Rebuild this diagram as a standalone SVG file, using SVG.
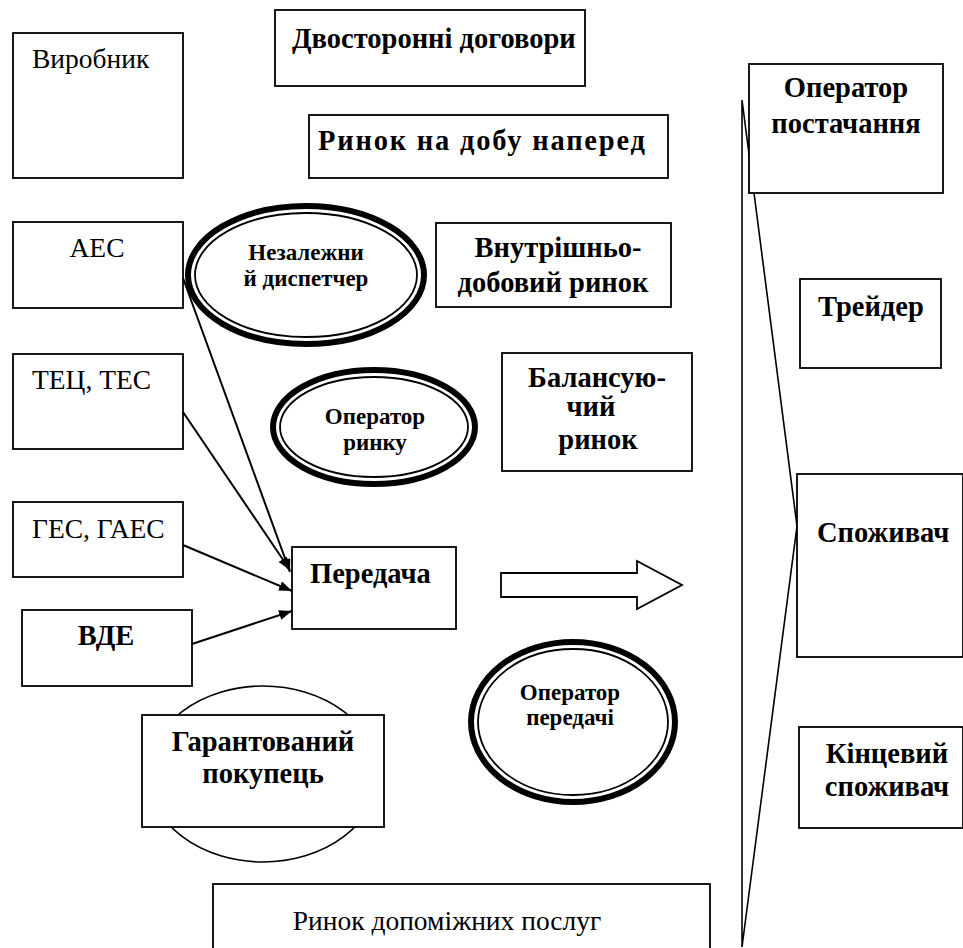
<svg xmlns="http://www.w3.org/2000/svg" width="963" height="948" viewBox="0 0 963 948">
  <style>
    .box { fill: #fff; stroke: #000; stroke-width: 1.8; }
    .thin { fill: none; stroke: #000; stroke-width: 1.6; }
    .ring-outer { fill: #fff; stroke: #000; stroke-width: 6; }
    .ring-inner { fill: none; stroke: #000; stroke-width: 1.8; }
    .edge { fill: none; stroke: #000; stroke-width: 2; marker-end: url(#arrow); }
    .reg { font-family: "Liberation Serif", "Times New Roman", serif; font-size: 27.5px; fill: #000; }
    .bold { font-family: "Liberation Serif", "Times New Roman", serif; font-size: 28.5px; font-weight: bold; fill: #000; }
    .small { font-family: "Liberation Serif", "Times New Roman", serif; font-size: 23px; font-weight: bold; fill: #000; }
    .mid { text-anchor: middle; }
  </style>
  <defs>
    <marker id="arrow" markerUnits="userSpaceOnUse" markerWidth="14" markerHeight="12" refX="13" refY="5" orient="auto">
      <path d="M0,0 L13,5 L0,10 z" fill="#000"/>
    </marker>
  </defs>
  <rect width="963" height="948" fill="#fff"/>

  <!-- supplier bracket behind the right-hand column -->
  <g id="bracket">
    <polygon class="thin" points="742,100 797,526 742,947"/>
  </g>

  <!-- producers -->
  <g id="vyrobnyk">
    <rect class="box" x="13" y="33" width="170" height="145"/>
    <text class="reg" x="32" y="68">Виробник</text>
  </g>
  <g id="aes">
    <rect class="box" x="13" y="222" width="170" height="86"/>
    <text class="reg mid" x="97" y="257">АЕС</text>
  </g>
  <g id="tets">
    <rect class="box" x="13" y="354" width="170" height="95"/>
    <text class="reg" x="32" y="389">ТЕЦ, ТЕС</text>
  </g>
  <g id="ges">
    <rect class="box" x="13" y="502" width="170" height="75"/>
    <text class="reg" x="32" y="538">ГЕС, ГАЕС</text>
  </g>
  <g id="vde">
    <rect class="box" x="22" y="610" width="170" height="76"/>
    <text class="bold mid" x="106" y="645">ВДЕ</text>
  </g>

  <!-- market segments -->
  <g id="bilateral">
    <rect class="box" x="275" y="10" width="310" height="76"/>
    <text class="bold" x="292" y="48">Двосторонні договори</text>
  </g>
  <g id="day-ahead">
    <rect class="box" x="309" y="115" width="359" height="63"/>
    <text class="bold" x="318" y="150" letter-spacing="1.8">Ринок на добу наперед</text>
  </g>
  <g id="intraday">
    <rect class="box" x="436" y="223" width="235" height="84"/>
    <text class="bold mid" x="558" y="257">Внутрішньо-</text>
    <text class="bold mid" x="553" y="292">добовий ринок</text>
  </g>
  <g id="balancing">
    <rect class="box" x="502" y="353" width="190" height="118"/>
    <text class="bold mid" x="597" y="387">Балансую-</text>
    <text class="bold mid" x="591" y="416">чий</text>
    <text class="bold mid" x="598" y="449">ринок</text>
  </g>

  <!-- operators -->
  <g id="dispatcher">
    <ellipse class="ring-outer" cx="306" cy="275" rx="118" ry="69"/>
    <ellipse class="ring-inner" cx="306" cy="275" rx="111" ry="62"/>
    <text class="small mid" x="306" y="260">Незалежни</text>
    <text class="small mid" x="306" y="286">й диспетчер</text>
  </g>
  <g id="market-operator">
    <ellipse class="ring-outer" cx="374" cy="427" rx="101" ry="57"/>
    <ellipse class="ring-inner" cx="374" cy="427" rx="94" ry="50"/>
    <text class="small mid" x="375" y="424">Оператор</text>
    <text class="small mid" x="375" y="450">ринку</text>
  </g>
  <g id="transmission-operator">
    <ellipse class="ring-outer" cx="573" cy="722" rx="102" ry="80"/>
    <ellipse class="ring-inner" cx="573" cy="722" rx="95" ry="73"/>
    <text class="small mid" x="570" y="700">Оператор</text>
    <text class="small mid" x="570" y="725">передачі</text>
  </g>

  <!-- transmission -->
  <g id="peredacha">
    <rect class="box" x="292" y="547" width="164" height="82"/>
    <text class="bold" x="310" y="583">Передача</text>
  </g>
  <g id="flow-arrow">
    <polygon class="box" points="501,573 637,573 637,561 682,585 637,609 637,597 501,597"/>
  </g>

  <!-- guaranteed buyer -->
  <g id="guaranteed-buyer">
    <ellipse class="thin" cx="263" cy="774" rx="115" ry="88" fill="#fff"/>
    <rect class="box" x="142" y="715" width="242" height="112"/>
    <text class="bold mid" x="263" y="751">Гарантований</text>
    <text class="bold mid" x="263" y="783">покупець</text>
  </g>

  <!-- ancillary services -->
  <g id="ancillary">
    <rect class="box" x="213" y="884" width="497" height="80"/>
    <text class="reg mid" x="447" y="930" font-size="25.5px">Ринок допоміжних послуг</text>
  </g>

  <!-- right-hand column -->
  <g id="supply-operator">
    <rect class="box" x="749" y="64" width="194" height="129"/>
    <text class="bold mid" x="846" y="97">Оператор</text>
    <text class="bold mid" x="846" y="133">постачання</text>
  </g>
  <g id="trader">
    <rect class="box" x="800" y="279" width="141" height="89"/>
    <text class="bold" x="818" y="316">Трейдер</text>
  </g>
  <g id="consumer">
    <rect class="box" x="797" y="474" width="166" height="183"/>
    <text class="bold" x="817" y="542">Споживач</text>
  </g>
  <g id="end-consumer">
    <rect class="box" x="799" y="727" width="164" height="101"/>
    <text class="bold mid" x="887" y="763">Кінцевий</text>
    <text class="bold mid" x="887" y="796">споживач</text>
  </g>

  <!-- connectors into transmission -->
  <g id="connectors">
    <line class="edge" x1="183" y1="278" x2="290" y2="572"/>
    <line class="edge" x1="183" y1="412" x2="290" y2="570"/>
    <line class="edge" x1="183" y1="545" x2="292" y2="591"/>
    <line class="edge" x1="192" y1="644" x2="292" y2="611"/>
  </g>
</svg>
